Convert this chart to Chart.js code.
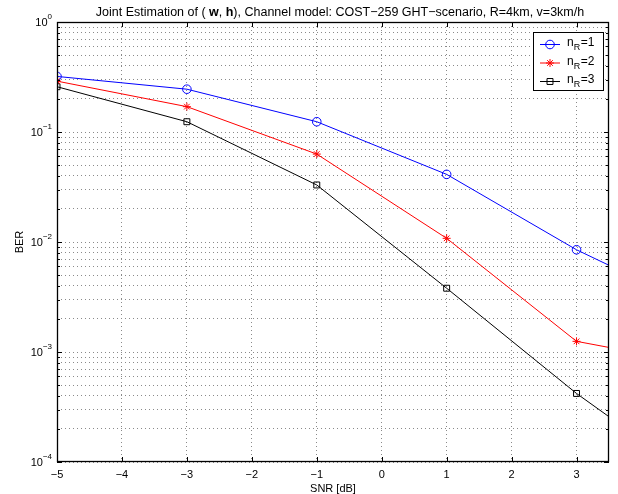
<!DOCTYPE html>
<html>
<head>
<meta charset="utf-8">
<script src="https://cdn.jsdelivr.net/npm/chart.js@4"></script>
<style>
html,body{margin:0;padding:0;background:#fff;}
#wrap{width:618px;height:494px;position:relative;}
</style>
</head>
<body>
<div id="wrap"><canvas id="c" width="618" height="494"></canvas></div>
<script>
// ---- data ----
const SNR = [-5, -3, -1, 1, 3, 3.5];
const BER_NR1 = [0.32, 0.245, 0.124, 0.0412, 0.0085, 0.00614];
const BER_NR2 = [0.29, 0.17, 0.063, 0.0108, 0.00125, 0.0011];
const BER_NR3 = [0.258, 0.124, 0.033, 0.0038, 0.00042, 0.000258];
const X_TICKS = [-5, -4, -3, -2, -1, 0, 1, 2, 3];
const Y_DECADES = [-4, -3, -2, -1, 0];
const SERIES_LABELS = ['1', '2', '3'];
const TITLE_PARTS = [
  ['Joint Estimation of ( ', false], ['w', true], [', ', false], ['h', true],
  ['), Channel model: COST\u2212259 GHT\u2212scenario, R=4km, v=3km/h', false]
];

const FONT = '"Liberation Sans", Arial, Helvetica, sans-serif';

// all log-scale tick values (1..9 x 10^k)
const Y_TICK_VALUES = [];
Y_DECADES.forEach((e, i) => {
  if (i === Y_DECADES.length - 1) { Y_TICK_VALUES.push(Math.pow(10, e)); return; }
  for (let m = 1; m <= 9; m++) Y_TICK_VALUES.push(m * Math.pow(10, e));
});

function pts(ys){ return SNR.map((x,i)=>({x, y: ys[i]})); }

const styles = [
  {color:'#0000ff', style:'circle', r:4.3},
  {color:'#ff0000', style:'star', r:4},
  {color:'#000000', style:'rect', r:4.2}
];

const datasets = [BER_NR1, BER_NR2, BER_NR3].map((d, i) => ({
  label: 'n_R=' + SERIES_LABELS[i],
  data: pts(d),
  borderColor: styles[i].color,
  backgroundColor: styles[i].color,
  borderWidth: 1,
  pointStyle: styles[i].style,
  pointRadius: SNR.map(x => x > 3 ? 0 : styles[i].r),
  pointBorderColor: styles[i].color,
  pointBackgroundColor: 'rgba(0,0,0,0)',
  pointBorderWidth: 1,
  tension: 0
}));

const framePlugin = {
  id: 'frame',
  afterDraw(chart) {
    const {ctx, chartArea: a, scales} = chart;
    ctx.save();
    // inward ticks
    ctx.strokeStyle = '#000';
    ctx.lineWidth = 1;
    ctx.beginPath();
    X_TICKS.forEach(v => {
      const x = Math.round(scales.x.getPixelForValue(v)) + 0.5;
      ctx.moveTo(x, a.bottom); ctx.lineTo(x, a.bottom - 5);
      ctx.moveTo(x, a.top); ctx.lineTo(x, a.top + 5);
    });
    Y_TICK_VALUES.forEach(v => {
      const y = Math.round(scales.y.getPixelForValue(v)) + 0.5;
      const major = Math.abs(Math.log10(v) - Math.round(Math.log10(v))) < 1e-9;
      const L = major ? 5 : 3;
      ctx.moveTo(a.left, y); ctx.lineTo(a.left + L, y);
      ctx.moveTo(a.right, y); ctx.lineTo(a.right - L, y);
    });
    ctx.stroke();
    // box
    ctx.lineWidth = 1.3;
    ctx.strokeRect(a.left + 0.5, a.top + 0.5, a.right - a.left - 1, a.bottom - a.top - 1);

    // y tick labels 10^k with superscript exponent
    ctx.fillStyle = '#000';
    ctx.textBaseline = 'middle';
    Y_DECADES.forEach(e => {
      const y = scales.y.getPixelForValue(Math.pow(10, e));
      const ex = String(e).replace('-', '\u2212');
      ctx.font = '8px ' + FONT;
      const ew = ctx.measureText(ex).width;
      const xr = 52;
      ctx.textAlign = 'left';
      ctx.fillText(ex, xr - ew, y - 5);
      ctx.font = '11px ' + FONT;
      ctx.textAlign = 'right';
      ctx.fillText('10', xr - ew, y + 1);
    });

    // legend
    const lx = 533.5, ly = 32.5, lw = 70, lh = 58;
    ctx.fillStyle = '#fff';
    ctx.fillRect(lx, ly, lw, lh);
    ctx.lineWidth = 1;
    ctx.strokeStyle = '#000';
    ctx.strokeRect(lx, ly, lw, lh);
    const rows = [44, 62.5, 81];
    styles.forEach((s, i) => {
      const y = rows[i];
      ctx.strokeStyle = s.color;
      ctx.lineWidth = 1;
      ctx.beginPath(); ctx.moveTo(540, y + 0.5); ctx.lineTo(560, y + 0.5); ctx.stroke();
      ctx.fillStyle = 'rgba(0,0,0,0)';
      Chart.helpers.drawPoint(ctx, {pointStyle: s.style, radius: s.r, rotation: 0, borderWidth: 1}, 550, y + 0.5);
      ctx.fillStyle = '#000';
      ctx.textBaseline = 'alphabetic';
      ctx.textAlign = 'left';
      ctx.font = '12px ' + FONT;
      let tx = 567;
      ctx.fillText('n', tx, y + 2);
      tx += ctx.measureText('n').width;
      ctx.font = '9px ' + FONT;
      ctx.fillText('R', tx, y + 6);
      tx += ctx.measureText('R').width + 0.5;
      ctx.font = '12px ' + FONT;
      ctx.fillText('=' + SERIES_LABELS[i], tx, y + 2);
    });

    // title with bold parts
    const TF = '12.5px ' + FONT;
    let total = 0;
    TITLE_PARTS.forEach(([t, b]) => {
      ctx.font = (b ? 'bold ' : '') + TF;
      total += ctx.measureText(t).width;
    });
    let tx = 340 - total / 2;
    ctx.fillStyle = '#000';
    ctx.textBaseline = 'middle';
    ctx.textAlign = 'left';
    TITLE_PARTS.forEach(([t, b]) => {
      ctx.font = (b ? 'bold ' : '') + TF;
      ctx.fillText(t, tx, 12.5);
      tx += ctx.measureText(t).width;
    });
    ctx.restore();
  }
};

new Chart(document.getElementById('c'), {
  type: 'line',
  data: { datasets },
  plugins: [framePlugin],
  options: {
    responsive: false,
    animation: false,
    devicePixelRatio: 1,
    layout: { padding: { top: 22, right: 9, left: 0, bottom: 0 } },
    plugins: { legend: { display: false }, tooltip: { enabled: false }, title: { display: false } },
    scales: {
      x: {
        type: 'linear', min: -5, max: 3.5,
        afterFit(s) { s.height = 32; },
        afterBuildTicks(s) { s.ticks = X_TICKS.map(v => ({value: v})); },
        ticks: {
          autoSkip: false, maxRotation: 0, padding: 6, color: '#000',
          font: { family: FONT, size: 11 },
          callback: v => String(v).replace('-', '\u2212')
        },
        grid: { color: '#8a8a8a', lineWidth: 1, drawTicks: false },
        border: { display: false, dash: [1, 3] },
        title: { display: true, text: 'SNR [dB]', color: '#000', padding: { top: 0, bottom: -2 }, font: { family: FONT, size: 11 } }
      },
      y: {
        type: 'logarithmic', min: 1e-4, max: 1,
        afterFit(s) { s.width = 57; },
        afterBuildTicks(s) { s.ticks = Y_TICK_VALUES.map(v => ({value: v})); },
        ticks: { display: false, autoSkip: false },
        grid: { color: '#8a8a8a', lineWidth: 1, drawTicks: false },
        border: { display: false, dash: [1, 3] },
        title: { display: true, text: 'BER', color: '#000', padding: { top: 13, bottom: 0 }, font: { family: FONT, size: 11 } }
      }
    }
  }
});
</script>
</body>
</html>
